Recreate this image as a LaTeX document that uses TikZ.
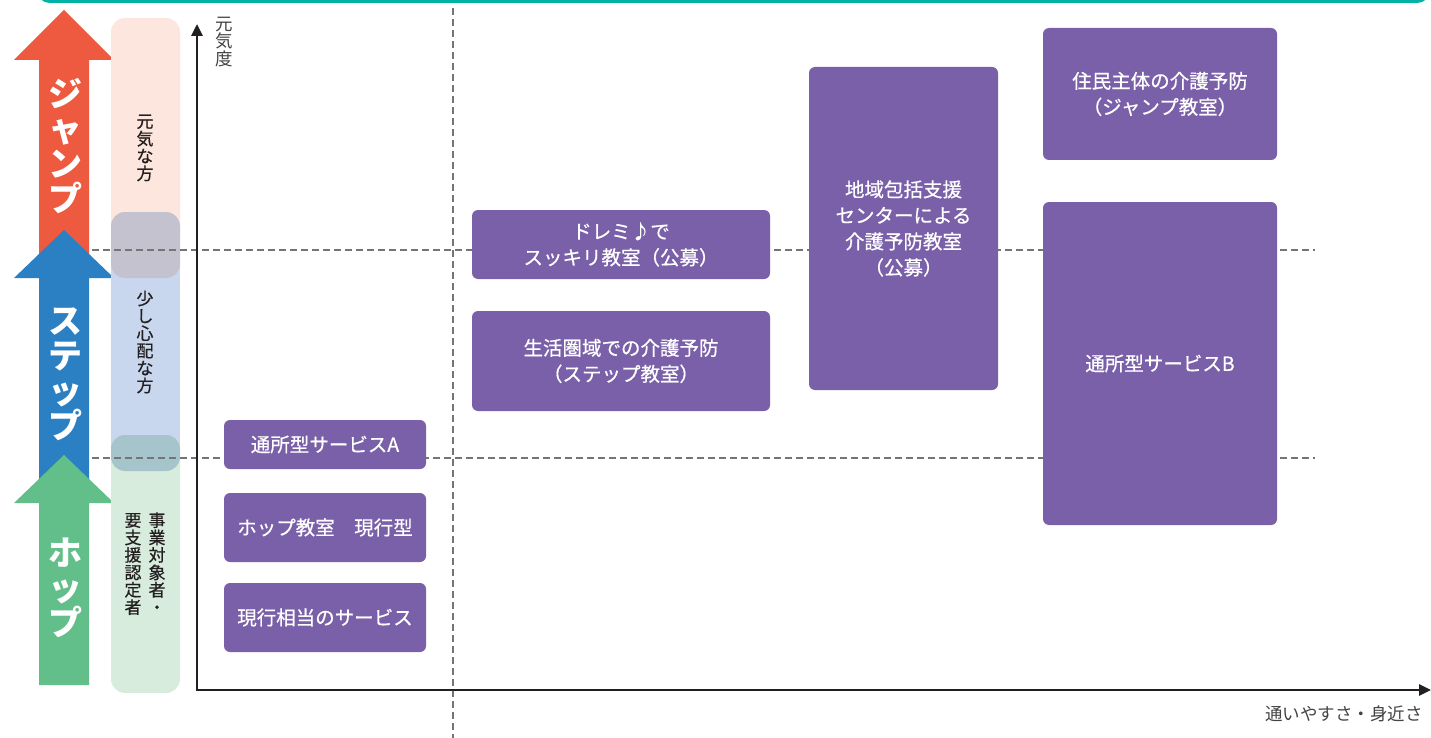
\documentclass[tikz,border=0pt]{standalone}
\usepackage{fontspec}
\setmainfont{Noto Sans CJK JP}
\newfontfamily\medfont{Noto Sans CJK JP}[FakeBold=0.6]
\usetikzlibrary{arrows.meta}
\definecolor{jred}{HTML}{EE5A3F}
\definecolor{jblue}{HTML}{2B80C3}
\definecolor{jgreen}{HTML}{63BF89}
\definecolor{jpurple}{HTML}{7A60A8}
\definecolor{jteal}{HTML}{00B3A4}
\definecolor{barpink}{HTML}{FCE6DD}
\definecolor{barblue}{HTML}{C8D6EE}
\definecolor{bargreen}{HTML}{D8ECDD}
\definecolor{bargrey}{HTML}{C5C2CF}
\definecolor{barteal}{HTML}{A6C4CB}
\definecolor{txtdark}{HTML}{231F20}
\definecolor{dashgrey}{HTML}{757575}
\tikzset{
  box/.style={fill=jpurple, rounded corners=6pt, text=white, align=center,
    font=\medfont\fontsize{19.5}{26}\selectfont, inner sep=0pt},
  bigtxt/.style={text=white, align=center, font=\bfseries\fontsize{34}{35}\selectfont, inner sep=0pt},
  vtxt/.style={text=txtdark, align=center, font=\medfont\fontsize{17}{17.4}\selectfont, inner sep=0pt},
  axislbl/.style={text=txtdark!85, font=\fontsize{17.5}{17.4}\selectfont, inner sep=0pt, align=center},
  dashline/.style={draw=dashgrey, line width=2.3pt, dash pattern=on 7pt off 4pt},
  axisline/.style={draw=txtdark, line width=2.8pt, -{Triangle[length=12pt,width=11pt]}},
}
\begin{document}
\begin{tikzpicture}[x=1pt,y=-1pt]
\useasboundingbox (0,0) rectangle (1431,738);
% top teal frame
\draw[jteal, line width=3pt, rounded corners=12pt] (38,-40) rectangle (1429,1.5);
% arrows
\fill[jred] (39,262) -- (39,60) -- (14,60) -- (64,10) -- (114,60) -- (89,60) -- (89,262) -- cycle;
\fill[jblue] (39,480) -- (39,278) -- (14,278) -- (64,230) -- (114,278) -- (89,278) -- (89,480) -- cycle;
\fill[jgreen] (39,685) -- (39,503) -- (14,503) -- (64,455) -- (114,503) -- (89,503) -- (89,685) -- cycle;
\node[bigtxt] (jump) at (65,146) {ジ\\ャ\\ン\\プ};
\node[bigtxt] (step) at (65,374) {ス\\テ\\ッ\\プ};
\node[bigtxt] (hop) at (65,588) {ホ\\ッ\\プ};
% bars
\fill[barpink, rounded corners=14pt] (111,18) rectangle (180,250);
\fill[barblue] (111,240) rectangle (180,460);
\fill[bargreen, rounded corners=14pt] (111,450) rectangle (180,693);
\fill[bargrey, rounded corners=14pt] (111,212) rectangle (180,278);
\fill[barteal, rounded corners=14pt] (111,435) rectangle (180,471);
\node[vtxt] (genki) at (145,148) {元\\気\\な\\方};
\node[vtxt] (shinpai) at (145,342) {少\\し\\心\\配\\な\\方};
\node[vtxt] (jigyo) at (157,563) {事\\業\\対\\象\\者\\・};
\node[vtxt] (yoshien) at (133,564) {要\\支\\援\\認\\定\\者};
% dashed guides
\coordinate (h1a) at (92,250); \coordinate (h1b) at (1315,250);
\coordinate (h2a) at (92,458); \coordinate (h2b) at (1315,458);
\coordinate (v1a) at (453,8); \coordinate (v1b) at (453,738);
\draw[dashline] (h1a) -- (h1b);
\draw[dashline] (h2a) -- (h2b);
\draw[dashline] (v1a) -- (v1b);
% axes
\coordinate (origin) at (197,690);
\coordinate (ytip) at (197,24);
\coordinate (xtip) at (1431,690);
\draw[axisline] (origin) -- (ytip);
\draw[axisline] ([xshift=-1.4pt]origin) -- (xtip);
\node[axislbl] (ylbl) at (224,42) {元\\気\\度};
\node[axislbl, anchor=east] (xlbl) at (1423,714) {通いやすさ・身近さ};
% boxes
\node[box, minimum width=202pt, minimum height=49pt] (sA) at (325,444.5) {通所型サービスA};
\node[box, minimum width=202pt, minimum height=69pt] (hopk) at (325,527.5) {ホップ教室　現行型};
\node[box, minimum width=202pt, minimum height=69pt] (genko) at (325,617.5) {現行相当のサービス};
\node[box, minimum width=298pt, minimum height=69pt] (doremi) at (621,244.5) {ドレミ♪で\\スッキリ教室（公募）};
\node[box, minimum width=298pt, minimum height=100pt] (seikatsu) at (621,361) {生活圏域での介護予防\\（ステップ教室）};
\node[box, minimum width=189pt, minimum height=323pt] (chiiki) at (903.5,228.5) {地域包括支援\\センターによる\\介護予防教室\\（公募）};
\node[box, minimum width=234pt, minimum height=132pt] (jumin) at (1160,94) {住民主体の介護予防\\（ジャンプ教室）};
\node[box, minimum width=234pt, minimum height=323pt] (sB) at (1160,363.5) {通所型サービスB};
\end{tikzpicture}
\end{document}
